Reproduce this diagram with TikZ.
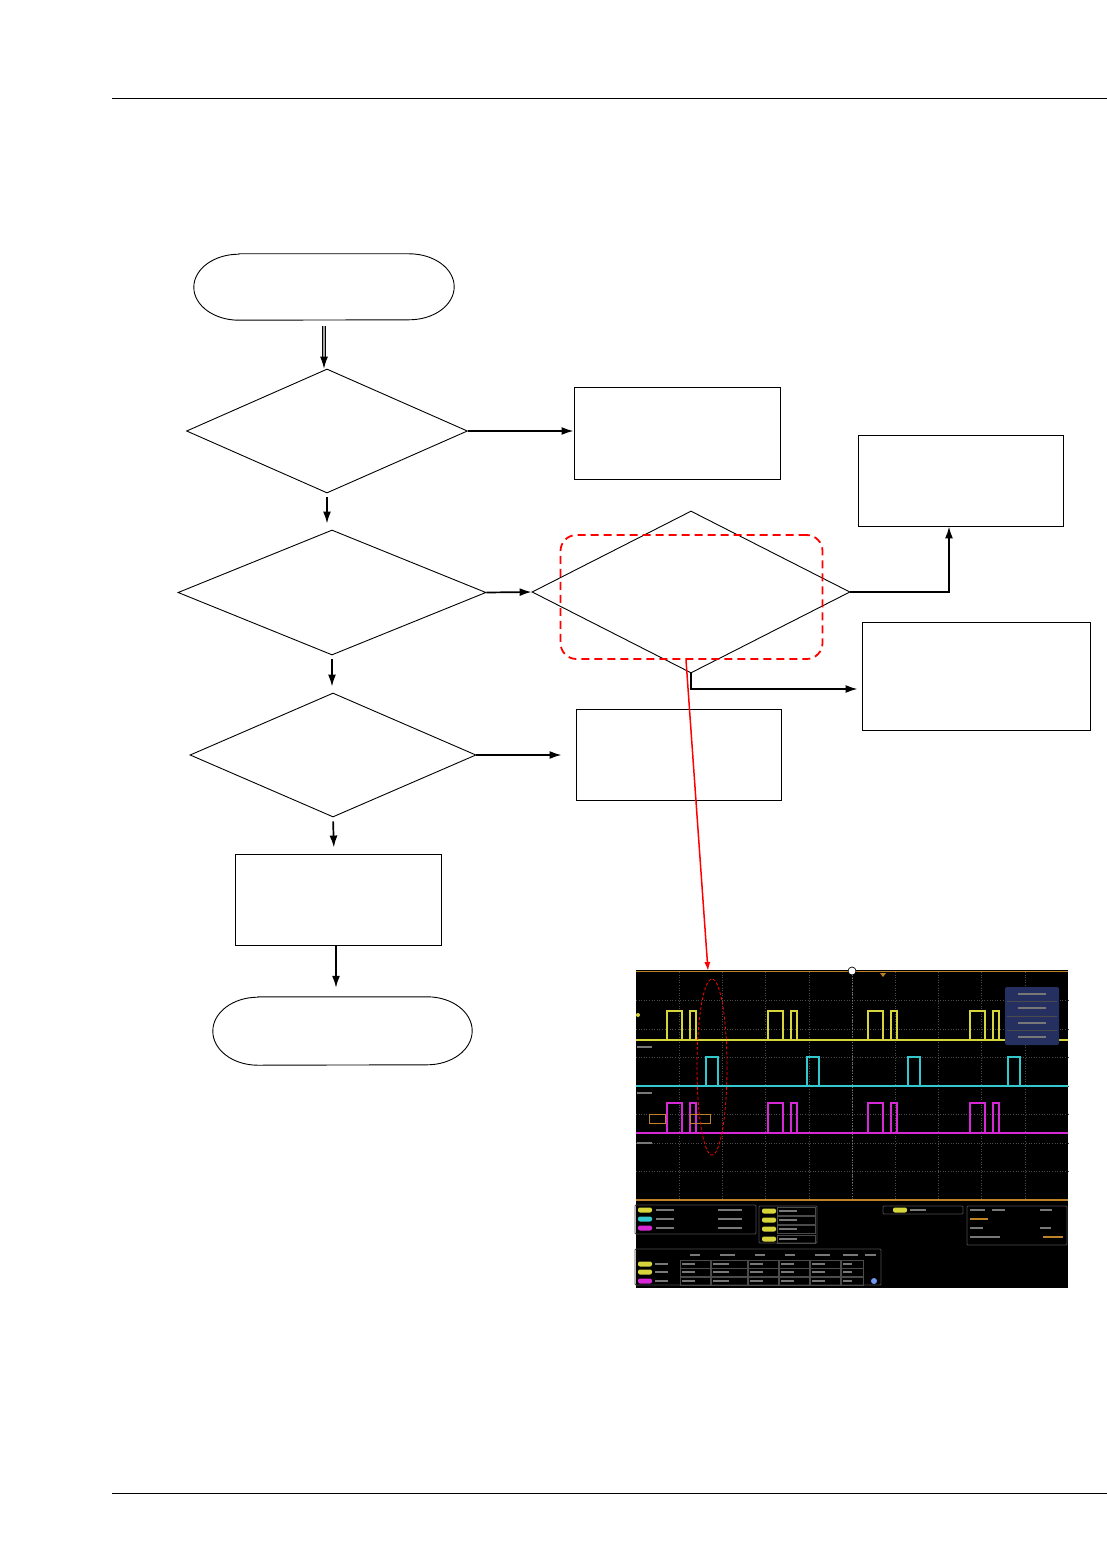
\documentclass[tikz,border=0pt]{standalone}
\usetikzlibrary{shapes.geometric,arrows.meta}
\definecolor{scYellow}{RGB}{214,214,60}
\definecolor{scCyan}{RGB}{50,200,205}
\definecolor{scMagenta}{RGB}{214,40,214}
\definecolor{scOrange}{RGB}{190,130,40}
\definecolor{scGrid}{RGB}{75,75,75}
\definecolor{scPanel}{RGB}{38,48,96}
\definecolor{scText}{RGB}{120,120,120}
\begin{document}
\begin{tikzpicture}[x=1pt,y=-1pt,
  shapeline/.style={draw, line width=0.9pt, inner sep=0pt},
  decision/.style={shapeline, diamond},
  procbox/.style={shapeline, rectangle},
  flow/.style={line width=1.7pt, -{Latex[length=12pt,width=8pt]}},
  gap/.style={shorten <=4pt, shorten >=6pt},
  redflow/.style={red, line width=1.5pt, -{Latex[length=9pt,width=6pt]}},
  pill/.style={rounded corners=2pt}]
\useasboundingbox (0,0) rectangle (1107,1554);
% page rules
\draw[line width=1pt] (112,99) -- (1107,99);
\draw[line width=1pt] (112,1493) -- (1107,1493);

% terminals
\node[inner sep=0pt, minimum width=260, minimum height=66] (start) at (324,287) {};
\draw[line width=0.9pt] ([xshift=45pt]start.north west) -- ([xshift=-45pt]start.north east)
  arc[start angle=-90, end angle=90, x radius=45, y radius=33]
  -- ([xshift=45pt]start.south west)
  arc[start angle=90, end angle=270, x radius=45, y radius=33] -- cycle;
\node[inner sep=0pt, minimum width=259, minimum height=68] (stop) at (342.5,1031) {};
\draw[line width=0.9pt] ([xshift=45pt]stop.north west) -- ([xshift=-45pt]stop.north east)
  arc[start angle=-90, end angle=90, x radius=45, y radius=34]
  -- ([xshift=45pt]stop.south west)
  arc[start angle=90, end angle=270, x radius=45, y radius=34] -- cycle;

% decisions
\node[decision, minimum width=281, minimum height=124] (dec1) at (327,431) {};
\node[decision, minimum width=308, minimum height=125] (dec2) at (332,592.5) {};
\node[decision, minimum width=318, minimum height=162] (dec3) at (691,592) {};
\node[decision, minimum width=286, minimum height=124] (dec4) at (333,755) {};

% process boxes
\node[procbox, minimum width=206, minimum height=92] (box1) at (677,433) {};
\node[procbox, minimum width=205, minimum height=91] (box2) at (960.5,480.5) {};
\node[procbox, minimum width=228, minimum height=108] (box3) at (976,676) {};
\node[procbox, minimum width=205, minimum height=91] (box4) at (678.5,754.5) {};
\node[procbox, minimum width=206, minimum height=91] (box5) at (338,899.5) {};

% highlight of dec3
\node[draw=red, line width=1.8pt, dash pattern=on 8pt off 5pt, rounded corners=16pt,
  minimum width=262, minimum height=124, inner sep=0pt] (sel) at (691.5,597) {};

% connectors
\draw[line width=0.9pt, double=gray!70, double distance=1.3pt, -{Latex[length=12pt,width=8pt]},
  shorten <=6pt] (start.south) -- (start.south |- dec1.north);
\draw[flow] (dec1.east) -- (dec1.east -| box1.west);
\draw[flow, gap] (dec1.south) -- (dec1.south |- dec2.north);
\draw[flow] (dec2.east) -- (dec3.west);
\draw[flow] (dec3.east) -| ([xshift=-11.5pt]box2.south);
\draw[flow, shorten >=4pt] (dec3.south) |- ([yshift=-13pt]box3.west);
\draw[flow, gap] (dec2.south) -- (dec2.south |- dec4.north);
\draw[flow, shorten >=14pt] (dec4.east) -- (dec4.east -| box4.west);
\draw[flow, gap] (dec4.south) -- ([xshift=-4pt]box5.north);
\draw[flow, shorten >=9pt] ([xshift=-2pt]box5.south) -- ([xshift=-6.5pt]stop.north);

% scope capture
\node[fill=black, inner sep=0pt, minimum width=432, minimum height=318] (scope) at (852,1129) {};
\coordinate (probe) at (708,971);
\draw[redflow] ([xshift=-5.5pt]sel.south) -- (probe);

% graticule
\foreach \gx in {1,...,9}
  \draw[scGrid, dotted, line width=0.6pt] ({636+43.2*\gx},972) -- ({636+43.2*\gx},1200);
\foreach \gy in {1,...,7}
  \draw[scGrid, dotted, line width=0.6pt] (636,{972+28.5*\gy}) -- (1068,{972+28.5*\gy});
\draw[scText, dotted, line width=0.8pt] (852,972) -- (852,1200);
\draw[scOrange, line width=1.6pt] (636,971.5) -- (1068,971.5);
\draw[scOrange, line width=1.6pt] (636,1200) -- (1068,1200);
\draw[fill=white, line width=0.7pt] (852,971) circle[radius=4];
\fill[scOrange] (880,973) -- (886,973) -- (883,977) -- cycle;

% traces
\draw[scYellow, line width=1.3pt] (636,1040) -- (1068,1040);
\draw[scCyan, line width=1.3pt] (636,1086) -- (1068,1086);
\draw[scMagenta, line width=1.3pt] (636,1133) -- (1068,1133);
\foreach \s in {667,768,868,970} {
  \draw[scYellow, line width=1.3pt] (\s,1040) |- ({\s+15},1011) -- ({\s+15},1040)
    ({\s+23},1040) |- ({\s+29},1011) -- ({\s+29},1040);
  \draw[scMagenta, line width=1.3pt] (\s,1133) |- ({\s+15},1103) -- ({\s+15},1133)
    ({\s+23},1133) |- ({\s+29},1103) -- ({\s+29},1133);
}
\foreach \s in {706,807,908,1008}
  \draw[scCyan, line width=1.3pt] (\s,1086) |- ({\s+12},1057) -- ({\s+12},1086);
\foreach \ly in {1047,1093,1143}
  \draw[scText, line width=1.5pt] (637,\ly) -- (652,\ly);
\fill[scYellow] (638,1015) circle[radius=2];
\draw[scOrange, line width=0.8pt] (649,1114) rectangle (665,1123);
\draw[scOrange, line width=0.8pt] (690,1114) rectangle (710,1123);
\draw[red, line width=0.8pt, dash pattern=on 3pt off 2pt] (712,1067) ellipse[x radius=15, y radius=88];

% cursor readout
\fill[scPanel, rounded corners=2pt] (1005,987) rectangle (1059,1045);
\foreach \ry in {994,1008,1023,1037}
  \draw[scText, line width=1.6pt] (1018,\ry) -- (1046,\ry);
\foreach \ry in {1001,1016,1030}
  \draw[scGrid, line width=0.5pt] (1007,\ry) -- (1057,\ry);

% readout panels
\draw[scGrid, line width=0.8pt, rounded corners=1pt] (635,1205) rectangle (756,1234);
\draw[scGrid, line width=0.8pt, rounded corners=1pt] (759,1206) rectangle (817,1243);
\draw[scGrid, line width=0.8pt, rounded corners=1pt] (883,1206) rectangle (963,1214);
\draw[scGrid, line width=0.8pt, rounded corners=1pt] (967,1206) rectangle (1067,1245);
\draw[scGrid, line width=0.8pt, rounded corners=1pt] (635,1249) rectangle (881,1285);
\foreach \py/\pc in {1210/scYellow,1219/scCyan,1228/scMagenta} {
  \fill[\pc, pill] (638,{\py-2.5}) rectangle ++(14,5);
  \draw[scText, line width=1.5pt] (656,\py) -- (674,\py) (718,\py) -- (742,\py);
}
\foreach \py in {1211,1220,1229,1239} {
  \fill[scYellow, pill] (762,{\py-2.5}) rectangle ++(14,5);
  \draw[scText, line width=1.5pt] (779,\py) -- (797,\py);
  \draw[scGrid, line width=0.5pt] (777,{\py-4}) rectangle (815,{\py+4});
}
\fill[scYellow, pill] (893,1207.5) rectangle ++(14,5);
\draw[scText, line width=1.5pt] (910,1210) -- (926,1210);
\draw[scText, line width=1.5pt] (970,1210) -- (985,1210) (992,1210) -- (1005,1210) (1040,1210) -- (1052,1210);
\draw[scOrange, line width=1.5pt] (970,1219) -- (988,1219);
\draw[scText, line width=1.5pt] (970,1228) -- (983,1228) (1040,1228) -- (1051,1228);
\draw[scText, line width=1.5pt] (970,1237) -- (1000,1237);
\draw[scOrange, line width=1.5pt] (1043,1237) -- (1063,1237);
\draw[scText, line width=1.5pt] (690,1255) -- (700,1255) (720,1255) -- (735,1255)
  (755,1255) -- (765,1255) (785,1255) -- (795,1255) (815,1255) -- (830,1255)
  (843,1255) -- (858,1255) (865,1255) -- (876,1255);
\foreach \py/\pc in {1264/scYellow,1272/scYellow,1281/scMagenta} {
  \fill[\pc, pill] (638,{\py-2.5}) rectangle ++(14,5);
  \draw[scText, line width=1.5pt] (655,\py) -- (668,\py);
  \foreach \cx/\cw in {680/30,711/36,748/30,779/30,810/30,841/22} {
    \draw[scGrid, line width=0.5pt] (\cx,{\py-4}) rectangle ({\cx+\cw},{\py+4});
    \draw[scText, line width=1.3pt] ({\cx+2},\py) -- ({\cx+\cw*0.5},\py);
  }
}
\fill[scCyan!40!blue!60!white] (874,1281) circle[radius=3];
\end{tikzpicture}
\end{document}
